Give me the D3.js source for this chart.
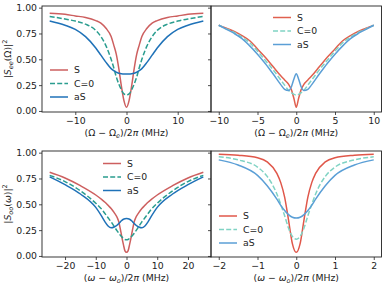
<!DOCTYPE html>
<html><head><meta charset="utf-8">
<script src="https://cdn.jsdelivr.net/npm/d3@7"></script>
<style>body{margin:0;background:#fff}svg{display:block}text{font-family:"DejaVu Sans",sans-serif;fill:#222}</style>
</head><body><svg id="c" width="383" height="284"></svg>
<script>
// ---- data ----
const seriesNames = ["S", "C=0", "aS"];
const yTicks = [0, 0.25, 0.5, 0.75, 1.0];

// top-left: |S_ee|^2 vs (Ω-Ωe)/2π, range ±15 MHz
const tlX   = [-15,-12,-10,-8,-6,-5,-4,-3,-2.5,-2,-1.5,-1,-0.5,0,0.5,1,1.5,2,2.5,3,4,5,6,8,10,12,15];
const tlS   = [0.945,0.935,0.92,0.905,0.875,0.85,0.80,0.72,0.64,0.55,0.41,0.24,0.10,0.035,0.10,0.24,0.41,0.55,0.64,0.72,0.80,0.85,0.875,0.905,0.92,0.935,0.945];
const tlC   = [0.915,0.89,0.87,0.84,0.78,0.72,0.63,0.50,0.42,0.33,0.26,0.205,0.165,0.155,0.165,0.205,0.26,0.33,0.42,0.50,0.63,0.72,0.78,0.84,0.87,0.89,0.915];
const tlA   = [0.87,0.83,0.79,0.72,0.61,0.54,0.47,0.41,0.39,0.375,0.365,0.36,0.358,0.358,0.358,0.36,0.365,0.375,0.39,0.41,0.47,0.54,0.61,0.72,0.79,0.83,0.87];

// top-right: range ±10 MHz
const trX   = [-10,-9,-8,-7,-6,-5,-4,-3,-2,-1.5,-1,-0.6,-0.3,0,0.3,0.6,1,1.5,2,3,4,5,6,7,8,9,10];
const trS   = [0.83,0.80,0.77,0.73,0.68,0.60,0.52,0.43,0.34,0.30,0.26,0.20,0.12,0.035,0.12,0.20,0.26,0.30,0.34,0.43,0.52,0.60,0.68,0.73,0.77,0.80,0.83];
const trC   = [0.83,0.795,0.76,0.715,0.66,0.58,0.49,0.40,0.30,0.25,0.20,0.175,0.16,0.155,0.16,0.175,0.20,0.25,0.30,0.40,0.49,0.58,0.66,0.715,0.76,0.795,0.83];
const trA   = [0.83,0.79,0.75,0.70,0.63,0.55,0.46,0.36,0.255,0.21,0.198,0.24,0.31,0.36,0.31,0.24,0.198,0.21,0.255,0.36,0.46,0.55,0.63,0.70,0.75,0.79,0.83];

// bottom-left: |S_oo|^2 vs (ω-ωo)/2π, range ±25 MHz
const blX   = [-25,-20,-15,-10,-8,-7,-6,-5,-4,-3,-2.5,-2,-1.5,-1,-0.5,0,0.5,1,1.5,2,2.5,3,4,5,6,7,8,10,15,20,25];
const blS   = [0.81,0.755,0.68,0.59,0.545,0.52,0.49,0.46,0.42,0.37,0.33,0.26,0.18,0.11,0.05,0.035,0.05,0.11,0.18,0.26,0.33,0.37,0.42,0.46,0.49,0.52,0.545,0.59,0.68,0.755,0.81];
const blC   = [0.78,0.72,0.63,0.51,0.45,0.41,0.37,0.33,0.285,0.24,0.22,0.20,0.185,0.17,0.16,0.157,0.16,0.17,0.185,0.20,0.22,0.24,0.285,0.33,0.37,0.41,0.45,0.51,0.63,0.72,0.78];
const blA   = [0.765,0.69,0.60,0.47,0.38,0.33,0.29,0.272,0.28,0.30,0.315,0.33,0.345,0.355,0.36,0.362,0.36,0.355,0.345,0.33,0.315,0.30,0.28,0.272,0.29,0.33,0.38,0.47,0.60,0.69,0.765];

// bottom-right: range ±2 MHz
const brX   = [-2,-1.5,-1,-0.75,-0.5,-0.4,-0.3,-0.2,-0.1,0,0.1,0.2,0.3,0.4,0.5,0.75,1,1.5,2];
const brS   = [0.985,0.975,0.95,0.91,0.80,0.71,0.57,0.35,0.12,0.035,0.12,0.35,0.57,0.71,0.80,0.91,0.95,0.975,0.985];
const brC   = [0.96,0.93,0.86,0.77,0.60,0.50,0.39,0.27,0.19,0.163,0.19,0.27,0.39,0.50,0.60,0.77,0.86,0.93,0.96];
const brA   = [0.93,0.88,0.78,0.68,0.55,0.49,0.44,0.40,0.375,0.367,0.375,0.40,0.44,0.49,0.55,0.68,0.78,0.88,0.93];

// ---- layout ----
const svg = d3.select("#c");
const fs = 9.3;
const panels = [
  {x0:42, x1:211, y0:6, y1:112, dom:[-16.5,16.5], ticks:[-10,0,10], xs:tlX, ys:[tlS,tlC,tlA],
   colors:["#cd5f5f","#2a9d8f","#1f72b8"], leg:{x:50,y:70}, ylab:"top", xlab:"Omega", showY:true},
  {x0:211, x1:381.5, y0:6, y1:112, dom:[-11,11], ticks:[-10,-5,0,5,10], xs:trX, ys:[trS,trC,trA],
   colors:["#e0604f","#80d3c4","#5b9fd6"], leg:{x:273,y:17.5}, xlab:"Omega", showY:false},
  {x0:42, x1:211, y0:151, y1:257, dom:[-27.5,27.5], ticks:[-20,-10,0,10,20], xs:blX, ys:[blS,blC,blA],
   colors:["#cd5f5f","#2a9d8f","#1f72b8"], leg:{x:103,y:163.5}, ylab:"bot", xlab:"omega", showY:true},
  {x0:211, x1:381.5, y0:151, y1:257, dom:[-2.2,2.2], ticks:[-2,-1,0,1,2], xs:brX, ys:[brS,brC,brA],
   colors:["#e0574a","#80d3c4","#5b9fd6"], leg:{x:219,y:216}, xlab:"omega", showY:false}
];
const fmtX = d => d < 0 ? "\u2212" + Math.abs(d) : String(d);

panels.forEach(p => {
  const x = d3.scaleLinear().domain(p.dom).range([p.x0, p.x1]);
  const y = d3.scaleLinear().domain([-0.01, 1.016]).range([p.y1, p.y0]);
  const g = svg.append("g");
  const clipId = "clip" + p.x0 + "_" + p.y0;
  svg.append("clipPath").attr("id", clipId).append("rect")
    .attr("x", p.x0).attr("y", p.y0).attr("width", p.x1 - p.x0).attr("height", p.y1 - p.y0);
  const line = d3.line().x((d,i) => x(p.xs[i])).y(d => y(d)).curve(d3.curveMonotoneX);
  p.ys.forEach((arr, k) => {
    g.append("path").attr("d", line(arr)).attr("fill","none")
      .attr("clip-path", `url(#${clipId})`)
      .attr("stroke", p.colors[k]).attr("stroke-width", 1.5)
      .attr("stroke-dasharray", k === 1 ? "5,2.2" : null);
  });
  // axes
  const xa = svg.append("g").attr("transform", `translate(0,${p.y1})`)
    .call(d3.axisBottom(x).tickValues(p.ticks).tickFormat(fmtX).tickSize(3).tickPadding(2));
  const ya = svg.append("g").attr("transform", `translate(${p.x0},0)`)
    .call(d3.axisLeft(y).tickValues(yTicks).tickFormat(p.showY ? d3.format(".2f") : "").tickSize(3).tickPadding(2));
  [xa, ya].forEach(a => {
    a.select(".domain").remove();
    a.selectAll("line").attr("stroke", "#222").attr("stroke-width", 0.8);
    a.selectAll("text").attr("font-size", fs).attr("fill", "#222").style("font-family", "DejaVu Sans");
  });
  svg.append("rect").attr("x", p.x0).attr("y", p.y0).attr("width", p.x1 - p.x0).attr("height", p.y1 - p.y0)
    .attr("fill", "none").attr("stroke", "#222").attr("stroke-width", 0.9);
  // legend
  seriesNames.forEach((n, k) => {
    const ly = p.leg.y + k * 13.5;
    svg.append("line").attr("x1", p.leg.x).attr("x2", p.leg.x + 18).attr("y1", ly).attr("y2", ly)
      .attr("stroke", p.colors[k]).attr("stroke-width", 1.5).attr("stroke-dasharray", k === 1 ? "5,2.2" : null);
    svg.append("text").attr("x", p.leg.x + 24).attr("y", ly + 3.3).attr("font-size", fs).text(n);
  });
  // x label
  const cx = (p.x0 + p.x1) / 2;
  const xl = svg.append("text").attr("x", cx).attr("y", p.y1 + 24).attr("text-anchor", "middle").attr("font-size", fs);
  if (p.xlab === "Omega") {
    xl.append("tspan").text("(\u03A9 \u2212 \u03A9");
    xl.append("tspan").attr("font-size", fs*0.7).attr("dy", 2).attr("font-style","italic").text("e");
    xl.append("tspan").attr("dy", -2).text(")/2");
    xl.append("tspan").attr("font-style","italic").text("\u03C0");
    xl.append("tspan").text(" (MHz)");
  } else {
    xl.append("tspan").text("(");
    xl.append("tspan").attr("font-style","italic").text("\u03C9");
    xl.append("tspan").text(" \u2212 ");
    xl.append("tspan").attr("font-style","italic").text("\u03C9");
    xl.append("tspan").attr("font-size", fs*0.7).attr("dy", 2).attr("font-style","italic").text("o");
    xl.append("tspan").attr("dy", -2).text(")/2");
    xl.append("tspan").attr("font-style","italic").text("\u03C0");
    xl.append("tspan").text(" (MHz)");
  }
  // y label
  if (p.ylab) {
    const cy = (p.y0 + p.y1) / 2;
    const yl = svg.append("text").attr("transform", `translate(11,${cy}) rotate(-90)`)
      .attr("text-anchor", "middle").attr("font-size", fs);
    yl.append("tspan").text("|");
    yl.append("tspan").attr("font-style","italic").text("S");
    yl.append("tspan").attr("font-size", fs*0.7).attr("dy", 2).attr("font-style","italic").text(p.ylab === "top" ? "ee" : "oo");
    yl.append("tspan").attr("dy", -2).text("(");
    yl.append("tspan").attr("font-style", p.ylab === "top" ? "normal" : "italic").text(p.ylab === "top" ? "\u03A9" : "\u03C9");
    yl.append("tspan").text(")|");
    yl.append("tspan").attr("font-size", fs*0.7).attr("dy", -4).text("2");
  }
});
</script></body></html>
